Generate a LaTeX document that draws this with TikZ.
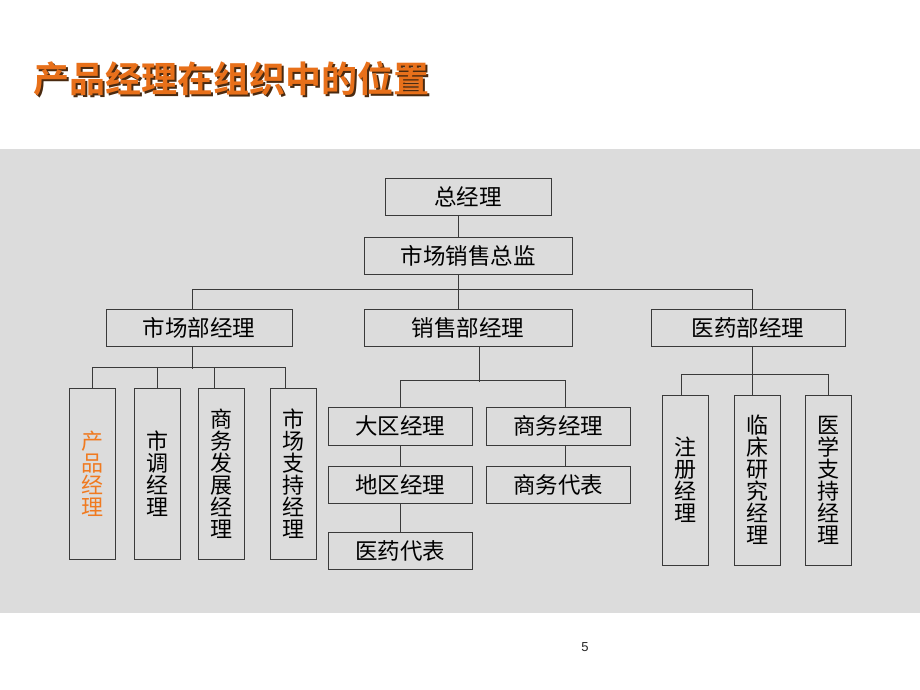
\documentclass[tikz,border=0pt]{standalone}
\usepackage{fontspec}
\setmainfont{Liberation Sans}
\newfontfamily\cjk{Noto Sans CJK SC}
\newfontfamily\cjkbold{Noto Sans CJK SC Bold}
\definecolor{bggray}{HTML}{DCDCDC}
\definecolor{linegray}{HTML}{3A3A3A}
\definecolor{titleorange}{HTML}{E8701A}
\definecolor{titleshadow}{HTML}{4A2A10}
\definecolor{hiorange}{HTML}{F07A20}
\newcommand{\titletext}{产品经理在组织中的位置}
\begin{document}
\begin{tikzpicture}[x=1pt,y=-1pt,
  box/.style={draw=linegray, line width=1pt, fill=bggray, inner sep=0pt,
    font=\cjk\fontsize{22.5}{24}\selectfont, text=black, align=center},
  vbox/.style={box, font=\cjk\fontsize{22}{22}\selectfont, minimum width=46pt, text width=30pt},
  conn/.style={draw=linegray, line width=1pt}]
\useasboundingbox (0,0) rectangle (920,690);
\fill[white] (0,0) rectangle (920,690);
\fill[bggray] (0,149) rectangle (920,612.5);
% title with shadow
\node[anchor=west, font=\cjkbold\fontsize{36}{36}\selectfont, inner sep=0pt] (title) at (33,80)
  {\rlap{\hspace{2.5pt}\raisebox{-2.5pt}{\textcolor{titleshadow}{\titletext}}}\textcolor{titleorange}{\titletext}};
% page number
\node[font=\fontsize{13}{13}\selectfont, text=black!85] (pnum) at (585,647) {5};
% top
\node[box, minimum width=166pt, minimum height=37pt] (gm) at (468,196.5) {总经理};
\node[box, minimum width=208pt, minimum height=37pt] (dir) at (468,255.5) {市场销售总监};
% second level
\node[box, minimum width=186pt, minimum height=37pt] (mkt) at (199,327.5) {市场部经理};
\node[box, minimum width=208pt, minimum height=37pt] (sales) at (468,327.5) {销售部经理};
\node[box, minimum width=194pt, minimum height=37pt] (med) at (748,327.5) {医药部经理};
% left group
\node[vbox, minimum height=171pt, text=hiorange] (p1) at (92,473.5) {产\\品\\经\\理};
\node[vbox, minimum height=171pt] (p2) at (157,473.5) {市\\调\\经\\理};
\node[vbox, minimum height=171pt] (p3) at (221,473.5) {商\\务\\发\\展\\经\\理};
\node[vbox, minimum height=171pt] (p4) at (293,473.5) {市\\场\\支\\持\\经\\理};
% middle group
\node[box, minimum width=143.5pt, minimum height=38pt] (r1) at (400.3,426) {大区经理};
\node[box, minimum width=143.5pt, minimum height=38pt] (r2) at (558.3,426) {商务经理};
\node[box, minimum width=143.5pt, minimum height=37pt] (r3) at (400.3,484.5) {地区经理};
\node[box, minimum width=143.5pt, minimum height=37pt] (r4) at (558.3,484.5) {商务代表};
\node[box, minimum width=143.5pt, minimum height=37pt] (r5) at (400.3,550.5) {医药代表};
% right group
\node[vbox, minimum height=170pt] (m1) at (685.3,480) {注\\册\\经\\理};
\node[vbox, minimum height=170pt] (m2) at (757,480) {临\\床\\研\\究\\经\\理};
\node[vbox, minimum height=170pt] (m3) at (828.7,480) {医\\学\\支\\持\\经\\理};
% connectors
\draw[conn] ([xshift=-10pt]gm.south) -- ([xshift=-10pt]dir.north);
\draw[conn] ([xshift=-10pt]dir.south) -- ([xshift=-10pt]sales.north);
\draw[conn] ([xshift=-6.5pt]mkt.north) -- ++(0,-19) -| ([xshift=4pt]med.north);
% left
\draw[conn] ([xshift=-6.5pt]mkt.south) -- ++(0,22);
\draw[conn] (p1.north) -- ++(0,-20) -| ([xshift=-8pt]p4.north);
\draw[conn] (p2.north) -- ++(0,-20);
\draw[conn] ([xshift=-7pt]p3.north) -- ++(0,-20);
% middle
\draw[conn] ([xshift=11.5pt]sales.south) -- ++(0,35);
\draw[conn] (r1.north) -- ++(0,-26) -| ([xshift=7pt]r2.north);
\draw[conn] (r1.south) -- (r3.north);
\draw[conn] (r3.south) -- (r5.north);
\draw[conn] ([xshift=7pt]r2.south) -- ([xshift=7pt]r4.north);
% right
\draw[conn] ([xshift=4pt]med.south) -- ([xshift=-5pt]m2.north);
\draw[conn] ([xshift=-4pt]m1.north) -- ++(0,-20) -| (m3.north);
\end{tikzpicture}
\end{document}
